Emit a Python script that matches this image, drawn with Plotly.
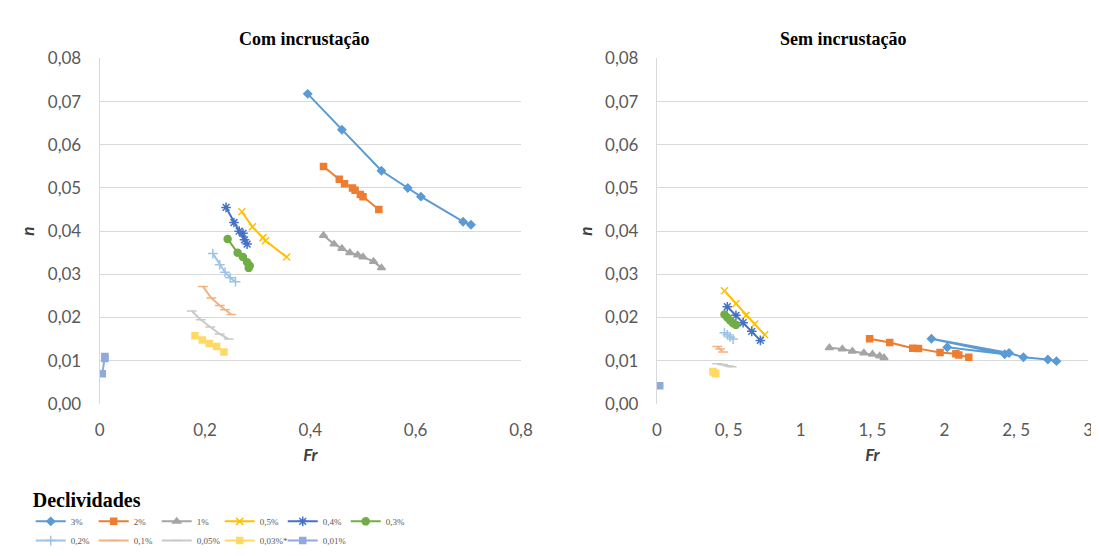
import plotly.graph_objects as go

# ---------------- data ----------------
series_names = ["3%", "2%", "1%", "0,5%", "0,4%", "0,3%", "0,2%", "0,1%", "0,05%", "0,03%*", "0,01%"]

# Com incrustação
fr_com_3 = [0.395, 0.46, 0.535, 0.585, 0.61, 0.69, 0.705]
n_com_3 = [0.0718, 0.0635, 0.054, 0.050, 0.048, 0.0422, 0.0415]
fr_com_2 = [0.425, 0.455, 0.465, 0.48, 0.485, 0.495, 0.50, 0.53]
n_com_2 = [0.055, 0.052, 0.051, 0.050, 0.0495, 0.0485, 0.048, 0.045]
fr_com_1 = [0.425, 0.445, 0.46, 0.475, 0.49, 0.50, 0.52, 0.535]
n_com_1 = [0.039, 0.037, 0.036, 0.035, 0.0345, 0.034, 0.033, 0.0315]
fr_com_05 = [0.27, 0.29, 0.31, 0.315, 0.355]
n_com_05 = [0.0445, 0.041, 0.0385, 0.0378, 0.034]
fr_com_04 = [0.24, 0.255, 0.265, 0.275, 0.28, 0.272]
n_com_04 = [0.0455, 0.042, 0.040, 0.038, 0.037, 0.0395]
fr_com_03 = [0.243, 0.262, 0.272, 0.28, 0.285, 0.283]
n_com_03 = [0.0382, 0.035, 0.034, 0.0328, 0.032, 0.0315]
fr_com_02 = [0.215, 0.228, 0.238, 0.248, 0.258]
n_com_02 = [0.0348, 0.0322, 0.0305, 0.0292, 0.0283]
fr_com_01 = [0.196, 0.212, 0.228, 0.238, 0.25]
n_com_01 = [0.0272, 0.0245, 0.0228, 0.0218, 0.0207]
fr_com_005 = [0.175, 0.192, 0.21, 0.228, 0.245]
n_com_005 = [0.0215, 0.0195, 0.0178, 0.0162, 0.015]
fr_com_003 = [0.181, 0.195, 0.208, 0.222, 0.236]
n_com_003 = [0.0158, 0.0148, 0.014, 0.0133, 0.012]
fr_com_001 = [0.005, 0.010, 0.010]
n_com_001 = [0.007, 0.0105, 0.011]

# Sem incrustação
fr_sem_3 = [2.02, 2.42, 1.91, 2.45, 2.55, 2.72, 2.78]
n_sem_3 = [0.0131, 0.0115, 0.0151, 0.0118, 0.0108, 0.0103, 0.0099]
fr_sem_2 = [1.48, 1.62, 1.78, 1.82, 1.97, 2.08, 2.10, 2.17]
n_sem_2 = [0.0151, 0.0142, 0.0129, 0.0128, 0.0119, 0.0116, 0.0113, 0.0108]
fr_sem_1 = [1.20, 1.29, 1.36, 1.44, 1.50, 1.55, 1.58]
n_sem_1 = [0.013, 0.0127, 0.0122, 0.0118, 0.0115, 0.0111, 0.0107]
fr_sem_05 = [0.47, 0.55, 0.62, 0.68, 0.75]
n_sem_05 = [0.0262, 0.0232, 0.0205, 0.0185, 0.016]
fr_sem_04 = [0.49, 0.55, 0.60, 0.66, 0.72]
n_sem_04 = [0.0225, 0.0205, 0.0188, 0.0168, 0.0147]
fr_sem_03 = [0.47, 0.49, 0.51, 0.53, 0.55]
n_sem_03 = [0.0207, 0.020, 0.0193, 0.0187, 0.0183]
fr_sem_02 = [0.47, 0.49, 0.51, 0.53]
n_sem_02 = [0.0165, 0.016, 0.0155, 0.015]
fr_sem_01 = [0.42, 0.44, 0.46]
n_sem_01 = [0.0133, 0.0127, 0.012]
fr_sem_005 = [0.42, 0.46, 0.50, 0.52]
n_sem_005 = [0.0093, 0.0091, 0.0088, 0.0086]
fr_sem_003 = [0.39, 0.40, 0.41]
n_sem_003 = [0.0075, 0.0072, 0.007]
fr_sem_001 = [0.02]
n_sem_001 = [0.0042]

y_ticks = [0, 0.01, 0.02, 0.03, 0.04, 0.05, 0.06, 0.07, 0.08]
y_ticktext = ["0,00", "0,01", "0,02", "0,03", "0,04", "0,05", "0,06", "0,07", "0,08"]
x1_ticks = [0, 0.2, 0.4, 0.6, 0.8]
x1_ticktext = ["0", "0,2", "0,4", "0,6", "0,8"]
x2_ticks = [0, 0.5, 1, 1.5, 2, 2.5, 3]
x2_ticktext = ["0", "0, 5", "1", "1, 5", "2", "2, 5", "3"]

# ---------------- style ----------------
colors = ["#5B9BD5", "#ED7D31", "#A5A5A5", "#FFC000", "#4472C4", "#70AD47",
          "#9DC3E6", "#F4B183", "#C9C9C9", "#FFD966", "#8FAADC"]
symbols = ["diamond", "square", "triangle-up", "x-thin-open", "asterisk-open", "circle",
           "cross-thin-open", "line-ew-open", "line-ew-open", "square", "square"]
sizes = [6, 6, 7, 7, 8, 7, 7, 7, 7, 6, 6]

com = [(fr_com_3, n_com_3), (fr_com_2, n_com_2), (fr_com_1, n_com_1), (fr_com_05, n_com_05),
       (fr_com_04, n_com_04), (fr_com_03, n_com_03), (fr_com_02, n_com_02), (fr_com_01, n_com_01),
       (fr_com_005, n_com_005), (fr_com_003, n_com_003), (fr_com_001, n_com_001)]
sem = [(fr_sem_3, n_sem_3), (fr_sem_2, n_sem_2), (fr_sem_1, n_sem_1), (fr_sem_05, n_sem_05),
       (fr_sem_04, n_sem_04), (fr_sem_03, n_sem_03), (fr_sem_02, n_sem_02), (fr_sem_01, n_sem_01),
       (fr_sem_005, n_sem_005), (fr_sem_003, n_sem_003), (fr_sem_001, n_sem_001)]

fig = go.Figure()
for i, name in enumerate(series_names):
    leg = "legend" if i < 6 else "legend2"
    mk = dict(symbol=symbols[i], size=sizes[i], color=colors[i], line=dict(color=colors[i], width=1.5))
    fx, fy = com[i]
    fig.add_trace(go.Scatter(x=fx, y=fy, name=name, mode="lines+markers",
                             line=dict(color=colors[i], width=2), marker=mk,
                             xaxis="x", yaxis="y", legend=leg, legendgroup=name))
    sx, sy = sem[i]
    fig.add_trace(go.Scatter(x=sx, y=sy, name=name, mode="lines+markers",
                             line=dict(color=colors[i], width=2), marker=mk,
                             xaxis="x2", yaxis="y2", showlegend=False, legendgroup=name))

W, H = 1099, 556
def px_x(p):
    return p / W
def px_y(p):
    return 1 - p / H

tick_font = dict(family="Lato, Open Sans, sans-serif", size=17, color="#595959")
title_font = dict(family="Lato, Open Sans, sans-serif", size=17, color="#404040")
serif = "Liberation Serif, Times New Roman, serif"
grid = "#D9D9D9"

ycommon = dict(range=[0, 0.08], tickvals=y_ticks, ticktext=y_ticktext, showgrid=True,
               gridcolor=grid, gridwidth=1, zeroline=False, showline=True, linecolor=grid,
               linewidth=1, ticks="", tickfont=tick_font, ticklabelstandoff=14,
               title=dict(text="<b><i>n</i></b>", font=title_font, standoff=8),
               domain=[px_y(400), px_y(41)])
xcommon = dict(showgrid=False, zeroline=False, showline=False, ticks="", tickfont=tick_font,
               ticklabelstandoff=14)

leg_font = dict(family=serif, size=9, color="#595959")

fig.update_layout(
    width=W, height=H,
    margin=dict(l=0, r=0, t=0, b=0),
    paper_bgcolor="white", plot_bgcolor="white",
    showlegend=True,
    xaxis=dict(**xcommon, range=[0, 0.8], tickvals=x1_ticks, ticktext=x1_ticktext,
               domain=[px_x(88), px_x(516)], anchor="y",
               title=dict(text="<b><i>Fr</i></b>", font=title_font, standoff=10)),
    yaxis=dict(**ycommon, anchor="x"),
    xaxis2=dict(**xcommon, range=[0, 3], tickvals=x2_ticks, ticktext=x2_ticktext,
                domain=[px_x(654), px_x(1092)], anchor="y2",
                title=dict(text="<b><i>Fr</i></b>", font=title_font, standoff=10)),
    yaxis2=dict(**ycommon, anchor="x2"),
    legend=dict(orientation="h", x=px_x(18), y=px_y(480), xanchor="left", yanchor="top",
                title=dict(text="<b>Declividades</b>", side="top",
                           font=dict(family=serif, size=20, color="#000000")),
                font=leg_font,
                itemwidth=30, entrywidth=18, entrywidthmode="pixels", tracegroupgap=0,
                bgcolor="rgba(0,0,0,0)"),
    legend2=dict(orientation="h", x=px_x(18), y=px_y(527), xanchor="left", yanchor="top",
                 font=leg_font,
                 itemwidth=30, entrywidth=18, entrywidthmode="pixels", tracegroupgap=0,
                 bgcolor="rgba(0,0,0,0)"),
    annotations=[
        dict(text="<b>Com incrustação</b>", x=px_x(296), y=px_y(21), xref="paper", yref="paper",
             xanchor="center", yanchor="middle", showarrow=False,
             font=dict(family=serif, size=18, color="#000000")),
        dict(text="<b>Sem incrustação</b>", x=px_x(843), y=px_y(21), xref="paper", yref="paper",
             xanchor="center", yanchor="middle", showarrow=False,
             font=dict(family=serif, size=18, color="#000000")),
    ],
)

fig.write_html("out.html")
